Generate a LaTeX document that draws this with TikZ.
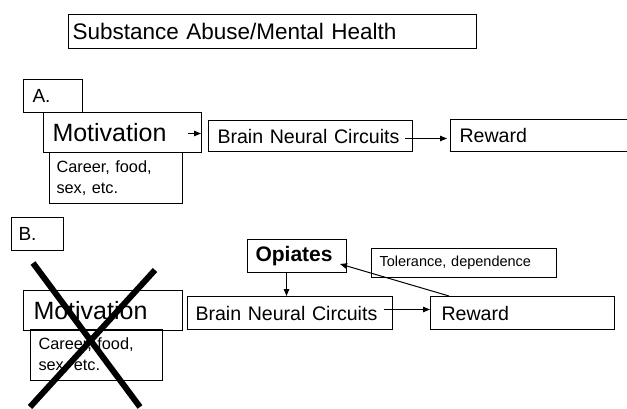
\documentclass[tikz,border=0pt]{standalone}
\usepackage{fontspec}
\setmainfont{Liberation Sans}
\usetikzlibrary{arrows.meta,calc}
\tikzset{
  box/.style={draw, rectangle, anchor=north west, align=left, line width=1pt, inner ysep=0pt},
  fsTitle/.style={font=\fontsize{22.5}{26}\selectfont},
  fsLab/.style={font=\fontsize{19}{22}\selectfont},
  fsBig/.style={font=\fontsize{25}{29}\selectfont},
  fsMid/.style={font=\fontsize{19.6}{23}\selectfont},
  fsSmall/.style={font=\fontsize{16.3}{21}\selectfont},
  fsTol/.style={font=\fontsize{14.5}{17}\selectfont},
  fsBold/.style={font=\fontsize{21}{24}\selectfont\bfseries},
  arr/.style={-{Triangle[length=7pt,width=5.5pt]}, line width=1pt},
  cross/.style={line width=6pt, black}
}
\begin{document}
\begin{tikzpicture}[x=1pt,y=-1pt]
\useasboundingbox (0,0) rectangle (627,409);
% title
\node[box, fsTitle, inner xsep=4pt, text width=400pt, minimum height=34pt] (title) at (68,14) {Substance Abuse/Mental Health};
% part A
\node[box, fsLab, inner xsep=9pt, text width=41pt, minimum height=33pt] (labA) at (23,79) {A.};
\node[box, fsBig, inner xsep=9pt, text width=140pt, minimum height=40pt] (motA) at (43,112) {Motivation};
\node[box, fsSmall, inner xsep=7pt, text width=119pt, minimum height=51pt] (carA) at (49,152) {Career, food,\\sex, etc.};
\node[box, fsMid, inner xsep=9pt, text width=186pt, minimum height=31pt] (brainA) at (208,120) {Brain Neural Circuits};
\node[box, fsMid, inner xsep=9pt, text width=162pt, minimum height=32pt] (rewA) at (450,119) {Reward};
\draw[arr] ($(motA.east)+(-14,1)$) -- ($(motA.east)+(-1,1)$);
\draw[arr] ($(brainA.east)+(-8,2.5)$) -- ($(rewA.west)+(-3,3)$);
% part B
\node[box, fsLab, inner xsep=7pt, text width=38pt, minimum height=33pt] (labB) at (11,217) {B.};
\node[box, fsBig, inner xsep=10pt, text width=139pt, minimum height=40pt] (motB) at (23,290) {Motivation};
\node[box, fsSmall, inner xsep=8pt, text width=116pt, minimum height=51pt] (carB) at (30,329) {Career, food,\\sex, etc.};
\node[box, fsBold, inner xsep=8pt, text width=83pt, minimum height=33pt] (opi) at (247,239) {Opiates};
\node[box, fsTol, inner xsep=8pt, text width=169pt, minimum height=29pt] (tol) at (371,248) {Tolerance, dependence};
\node[box, fsMid, inner xsep=8pt, text width=189pt, minimum height=33pt] (brainB) at (187,296) {Brain Neural Circuits};
\node[box, fsMid, inner xsep=11pt, text width=162pt, minimum height=33pt] (rewB) at (430,296) {Reward};
\draw[arr] ($(opi.south)+(-10.5,0)$) -- ($(brainB.north)+(-3.5,0)$);
\draw[arr] ($(brainB.east)+(-9,-3.5)$) -- ($(rewB.west)+(0,-3.5)$);
\draw[arr] ($(rewB.north west)+(19,0)$) -- ($(opi.south east)+(-7,-9)$);
% cross
\coordinate (x1a) at (33,263);
\coordinate (x1b) at (140,407);
\coordinate (x2a) at (155,270);
\coordinate (x2b) at (30,407);
\draw[cross] (x1a) -- (x1b);
\draw[cross] (x2a) -- (x2b);
\end{tikzpicture}
\end{document}
